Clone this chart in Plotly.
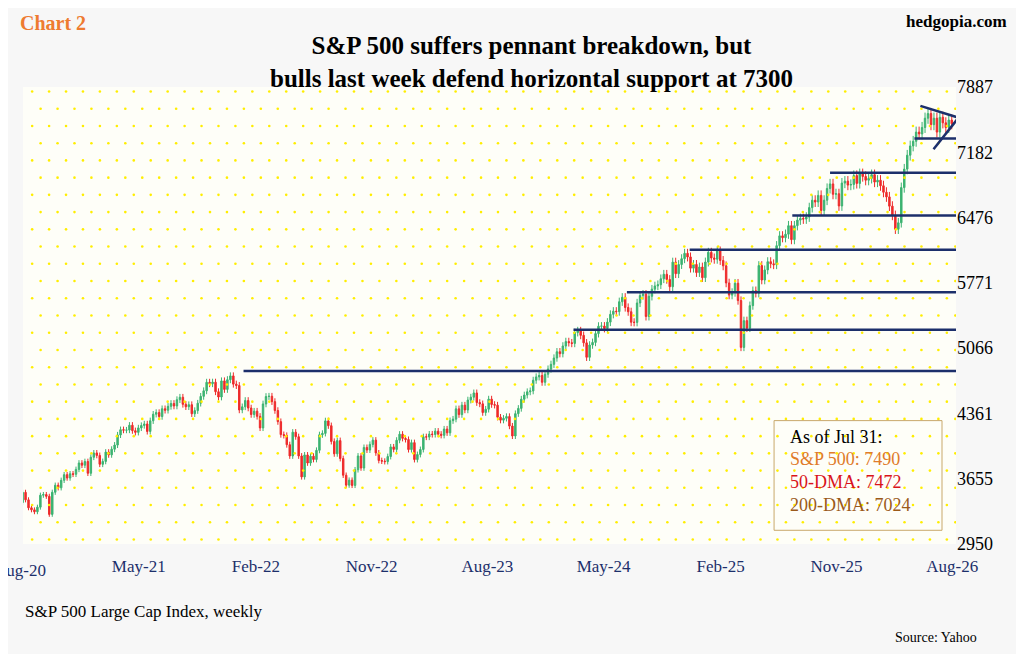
import numpy as np
import pandas as pd
import plotly.graph_objects as go

# weekly closes, S&P 500, Aug-2020 .. Jul-31-2026
closes = [
    3351, 3373, 3397, 3508, 3427, 3341, 3319, 3298, 3348, 3477, 3484, 3465, 3270,
    3509, 3585, 3557, 3638, 3699, 3663, 3709, 3703, 3756,
    3825, 3801, 3841, 3714, 3887, 3934, 3907, 3811, 3842, 3943, 3913, 3974,
    4019, 4128, 4185, 4180, 4181, 4233, 4174, 4156, 4204, 4230, 4247, 4166, 4281, 4352,
    4370, 4327, 4411, 4395, 4437, 4468, 4441, 4509, 4535, 4459, 4433, 4455, 4357,
    4391, 4471, 4545, 4605, 4697, 4682, 4698, 4595, 4538, 4712, 4620, 4725, 4766,
    4677, 4662, 4398, 4432, 4500, 4419, 4349, 4385, 4329, 4204, 4463, 4543,
    4546, 4488, 4392, 4272, 4132, 4123, 4023, 3901, 4158, 4109, 3901, 3675, 3912, 3825,
    3899, 3863, 3962, 4130, 4145, 4280, 4228, 4058, 3924, 4067, 3873, 3693, 3586,
    3640, 3583, 3752, 3901, 3771, 3993, 3965, 4026, 4072, 3934, 3852, 3845, 3840,
    3895, 3999, 3972, 4071, 4136, 4091, 4079, 3970, 4045, 3862, 3917, 3971, 4109,
    4105, 4138, 4133, 4169, 4136, 4124, 4192, 4151, 4282, 4299, 4410, 4348, 4450,
    4398, 4505, 4536, 4582, 4478, 4464, 4370, 4406, 4515, 4457, 4450, 4320, 4288,
    4308, 4327, 4224, 4117, 4358, 4415, 4514, 4559, 4594, 4604, 4719, 4755, 4770,
    4697, 4784, 4840, 4891, 4959, 5027, 5006, 5089, 5137, 5124, 5117, 5234, 5254,
    5204, 5123, 4967, 5100, 5128, 5223, 5303, 5305, 5278, 5347, 5431, 5465, 5460,
    5567, 5615, 5505, 5459, 5346, 5344, 5554, 5634, 5648, 5408, 5626, 5703, 5738,
    5751, 5815, 5864, 5808, 5729, 5995, 5870, 5969, 6032, 6090, 6051, 5930, 5970, 5882,
    5942, 5827, 5996, 6101, 6040, 6026, 6115, 6013, 5955, 5770, 5639, 5667, 5767, 5580,
    5074, 5363, 5282, 5525, 5686, 5659, 5958, 5802, 5911, 6000, 5977, 5967, 6173,
    6279, 6259, 6297, 6389, 6238, 6389, 6449, 6467, 6460, 6482, 6584, 6664, 6644,
    6716, 6553, 6664, 6791, 6840, 6728, 6734, 6602, 6849, 6870, 6827, 6834, 6930, 6845,
    6950, 6920, 6880, 6900, 6940, 6860, 6880, 6820, 6750, 6700, 6600, 6500, 6350, 6420,
    6800, 7000, 7150, 7250, 7300, 7400, 7380, 7450, 7550, 7600, 7480, 7550, 7400,
    7560, 7500, 7450, 7530, 7490,
]
weeks = pd.date_range(end="2026-07-31", periods=len(closes), freq="7D")

opens = [3300] + closes[:-1]
highs = [max(o, c) * 1.008 for o, c in zip(opens, closes)]
lows = [min(o, c) * 0.992 for o, c in zip(opens, closes)]

# support / pennant lines: (start, end, y0, y1)
support_lines = [
    ("2022-01-03", "2026-09-01", 4818, 4818),
    ("2024-02-20", "2026-09-01", 5265, 5265),
    ("2024-06-25", "2026-09-01", 5670, 5670),
    ("2024-11-20", "2026-09-01", 6130, 6130),
    ("2025-07-20", "2026-09-01", 6500, 6500),
    ("2025-10-17", "2026-09-01", 6960, 6960),
    ("2026-05-04", "2026-09-01", 7330, 7330),
    ("2026-05-18", "2026-09-10", 7683, 7520),
    ("2026-06-18", "2026-08-15", 7214, 7550),
]

y_ticks = [2950, 3655, 4361, 5066, 5771, 6476, 7182, 7887]
x_ticks = ["2020-08-01", "2021-05-01", "2022-02-01", "2022-11-01", "2023-08-01",
           "2024-05-01", "2025-02-01", "2025-11-01", "2026-08-01"]
x_labels = ["Aug-20", "May-21", "Feb-22", "Nov-22", "Aug-23",
            "May-24", "Feb-25", "Nov-25", "Aug-26"]

SERIF = "Liberation Serif"
NAVY = "#1c2f6b"

fig = go.Figure()

# yellow dotted backdrop on a hidden 0..1 axis pair
gx, gy = [], []
for j in range(27):
    for i in range(55):
        gx.append((i + 0.5 * (j % 2)) / 54)
        gy.append(j / 26)
fig.add_trace(go.Scatter(x=gx, y=gy, xaxis="x2", yaxis="y2", mode="markers",
                         marker=dict(size=2.6, color="#ffee00"), hoverinfo="skip",
                         showlegend=False))

fig.add_trace(go.Candlestick(
    x=weeks, open=opens, high=highs, low=lows, close=closes,
    increasing=dict(line=dict(color="#3cb371", width=1), fillcolor="#3cb371"),
    decreasing=dict(line=dict(color="#ee2a2a", width=1), fillcolor="#ee2a2a"),
    whiskerwidth=0, showlegend=False,
))

for x0, x1, y0, y1 in support_lines:
    fig.add_shape(type="line", x0=x0, x1=x1, y0=y0, y1=y1, xref="x", yref="y",
                  line=dict(color=NAVY, width=2.5))

fig.add_shape(type="rect", xref="paper", yref="paper", x0=0.805, x1=0.985,
              y0=0.03, y1=0.27, line=dict(color="#c8a86a", width=1), fillcolor="rgba(0,0,0,0)")
box_lines = [("As of Jul 31:", "black"), ("S&P 500: 7490", "#e07b2a"),
             ("50-DMA: 7472", "#d9141b"), ("200-DMA: 7024", "#9b5a1a")]
for k, (txt, col) in enumerate(box_lines):
    fig.add_annotation(text=txt, xref="paper", yref="paper", x=0.82, y=0.235 - k * 0.05,
                       xanchor="left", yanchor="middle", showarrow=False,
                       font=dict(family=SERIF, size=18, color=col))

fig.add_annotation(text="Aug-20", xref="paper", yref="paper", x=-0.003, y=-0.032,
                   xanchor="center", yanchor="top", showarrow=False,
                   font=dict(family=SERIF, size=17, color=NAVY))
fig.add_annotation(text="<b>Chart 2</b>", xref="paper", yref="paper", x=-0.005, y=1.14,
                   xanchor="left", yanchor="middle", showarrow=False,
                   font=dict(family=SERIF, size=20, color="#ee7b30"))
fig.add_annotation(text="<b>hedgopia.com</b>", xref="paper", yref="paper", x=1.057, y=1.143,
                   xanchor="right", yanchor="middle", showarrow=False,
                   font=dict(family=SERIF, size=17, color="black"))
fig.add_annotation(text="<b>S&P 500 suffers pennant breakdown, but<br>bulls last week defend horizontal support at 7300</b>",
                   xref="paper", yref="paper", x=0.545, y=1.055, xanchor="center", yanchor="middle",
                   showarrow=False, font=dict(family=SERIF, size=25, color="black"))
fig.add_annotation(text="S&P 500 Large Cap Index, weekly", xref="paper", yref="paper", x=0.0, y=-0.172,
                   xanchor="left", showarrow=False, font=dict(family=SERIF, size=17, color="black"))
fig.add_annotation(text="Source: Yahoo", xref="paper", yref="paper", x=1.025, y=-0.226,
                   xanchor="right", showarrow=False, font=dict(family=SERIF, size=14, color="black"))

fig.update_layout(
    width=1024, height=654,
    margin=dict(l=15, r=76, t=79, b=118),
    paper_bgcolor="#f7f7f7", plot_bgcolor="#fefef8",
    xaxis=dict(type="date", range=["2020-08-01", "2026-08-10"], tickvals=x_ticks, ticktext=x_labels,
               showgrid=False, zeroline=False, rangeslider=dict(visible=False), ticklabelstandoff=10,
               tickfont=dict(family=SERIF, size=17, color=NAVY), ticks=""),
    yaxis=dict(range=[2950, 7887], tickvals=y_ticks, side="right", showgrid=False, zeroline=False,
               tickfont=dict(family=SERIF, size=18, color="black"), ticks=""),
    xaxis2=dict(range=[-0.01, 1.01], overlaying="x", visible=False),
    yaxis2=dict(range=[-0.01, 1.01], overlaying="y", visible=False),
)

fig.write_html("out.html")
